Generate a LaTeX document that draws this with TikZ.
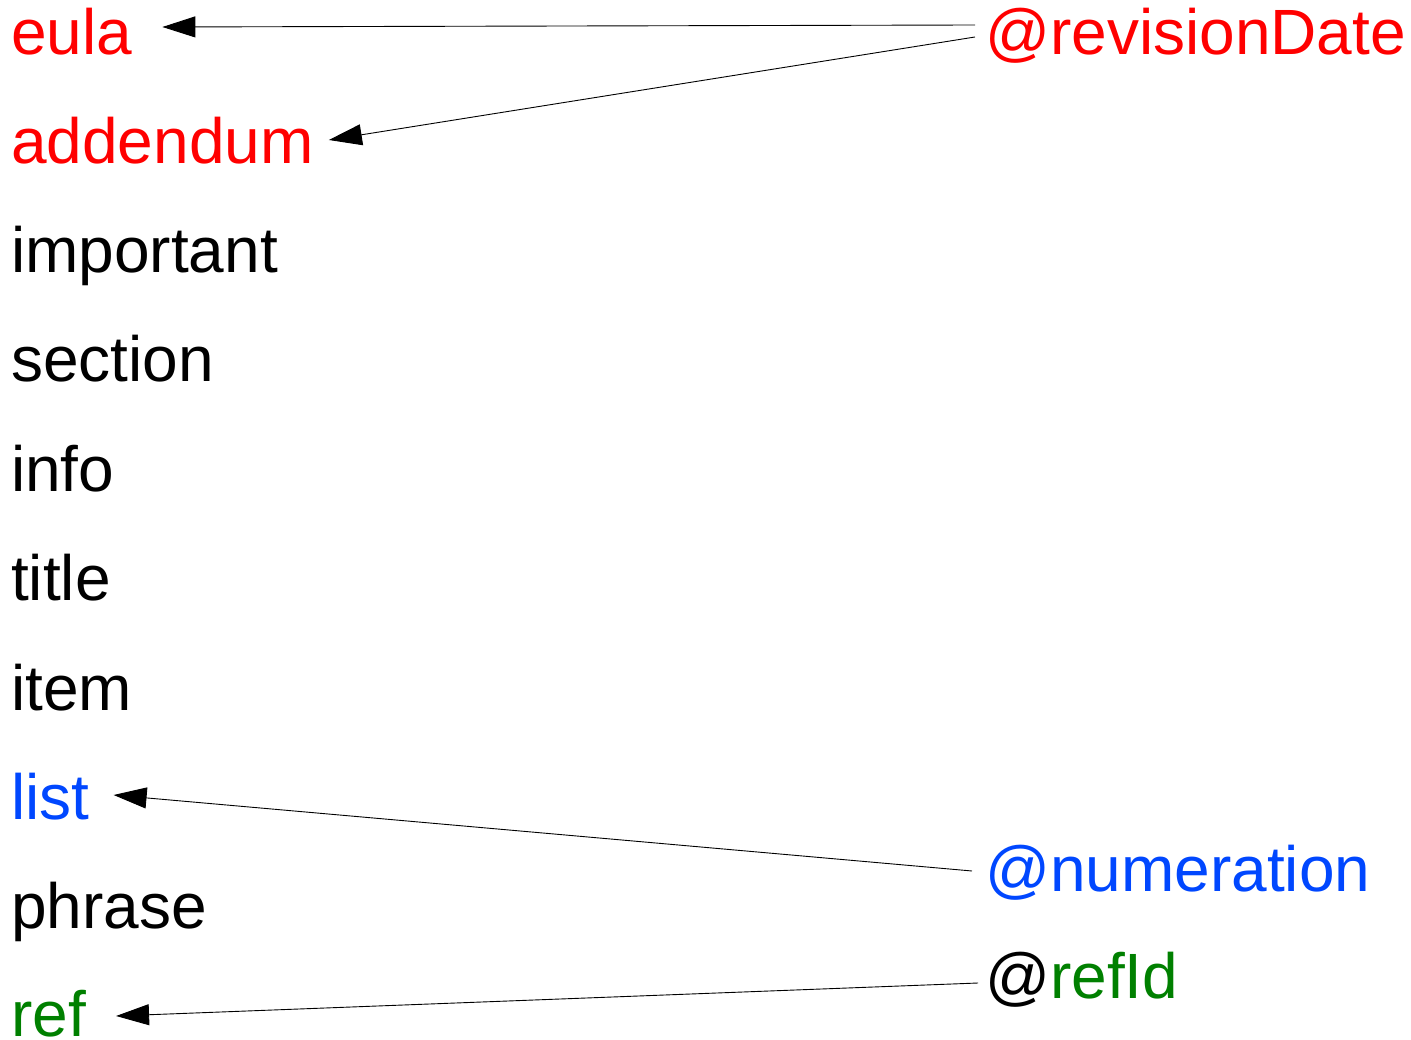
\documentclass[tikz,border=0pt]{standalone}
\usepackage{fontspec}
\setmainfont{Liberation Sans}
\usepackage{tikz}
\usetikzlibrary{arrows.meta}
\usetikzlibrary{calc}
\definecolor{attrred}{RGB}{255,0,0}
\definecolor{attrblue}{RGB}{0,71,255}
\definecolor{attrgreen}{RGB}{0,128,0}

\begin{document}
\begin{tikzpicture}[x=1pt,y=-1pt]

\tikzset{elem/.style = {anchor=base west,inner sep=0pt,font=\fontsize{64}{70}\selectfont}}
\tikzset{edge/.style = {->,line width=0.9pt,>={Triangle[length=33pt,width=21pt]}}}

\useasboundingbox (0,0) rectangle (1411,1040);

%elements
\node[elem,text=attrred] (eula) at (11,55) {eula};
\node[elem,text=attrred] (addendum) at (11,164) {addendum};
\node[elem] (important) at (11,273) {important};
\node[elem] (section) at (11,382) {section};
\node[elem] (info) at (11,491) {info};
\node[elem] (title) at (11,600) {title};
\node[elem] (item) at (11,710) {item};
\node[elem,text=attrblue] (list) at (11,819) {list};
\node[elem] (phrase) at (11,928) {phrase};
\node[elem,text=attrgreen] (ref) at (11,1036) {ref};

%attributes
\node[elem,text=attrred] (revdate) at (985,55) {@revisionDate};
\node[elem,text=attrblue] (numeration) at (985,891) {@numeration};
\node[elem,text=attrgreen] (refid) at (985,998) {{\color{black}@}refId};

%edges
\draw[edge] ($(revdate.base west)+(-10,-30)$) to ($(eula.base east)+(30,-28)$);
\draw[edge] ($(revdate.base west)+(-10,-18)$) to ($(addendum.base east)+(15,-24)$);
\draw[edge] ($(numeration.base west)+(-13,-20)$) to ($(list.base east)+(24,-24)$);
\draw[edge] ($(refid.base west)+(-7,-15)$) to ($(ref.base east)+(30,-20)$);

\end{tikzpicture}
\end{document}
